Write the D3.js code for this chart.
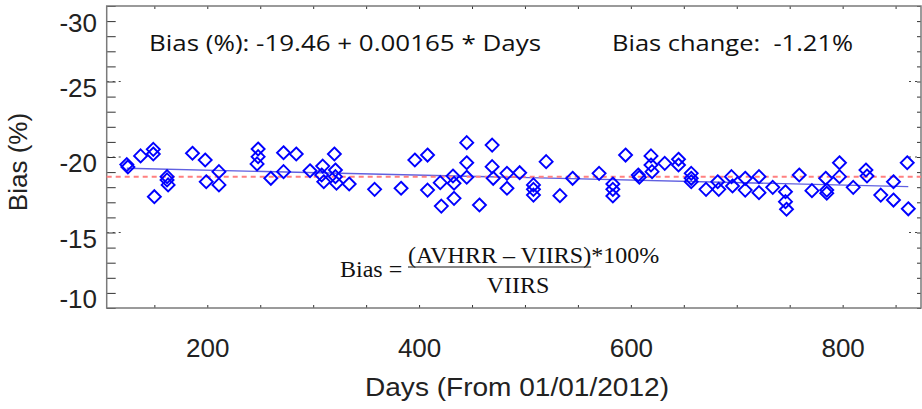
<!DOCTYPE html>
<html>
<head>
<meta charset="utf-8">
<script src="https://cdn.jsdelivr.net/npm/d3@7"></script>
<style>
    body { margin: 0; background: #fff; }
    svg { display: block; }
</style>
</head>
<body>
<svg id="biasChart" width="922" height="409"></svg>
<script>
// days since 01/01/2012 and AVHRR-VIIRS bias (%)
var days = [124, 125, 137, 149, 149, 150, 162, 162, 163, 186,
    198, 199, 211, 211, 248, 248, 247, 260, 272, 272,
    284, 297, 309, 308, 310, 320, 321, 321, 322, 334,
    358, 383, 396, 408, 408, 420, 421, 432, 433, 433,
    445, 445, 445, 457, 469, 469, 470, 483, 483, 495,
    508, 508, 508, 520, 533, 545, 570, 583, 583, 583,
    595, 607, 608, 619, 619, 620, 632, 645, 645, 657,
    657, 657, 671, 682, 683, 695, 696, 708, 708, 721,
    721, 734, 746, 746, 747, 759, 771, 784, 785, 785,
    797, 797, 810, 822, 823, 836, 848, 848, 861, 862];

var bias = [-19.50, -19.34, -20.07, -20.51, -20.20, -17.37, -18.70, -18.48, -18.15, -20.25,
    -19.80, -18.36, -19.03, -18.15, -20.53, -20.02, -19.54, -18.59, -20.28, -19.03,
    -20.20, -19.09, -19.40, -18.81, -18.36, -20.20, -19.14, -18.70, -18.26, -18.21,
    -17.86, -17.93, -19.80, -20.13, -17.81, -18.30, -16.75, -18.74, -18.26, -17.26,
    -20.95, -19.62, -18.66, -16.82, -20.79, -19.36, -18.59, -18.92, -17.93, -18.96,
    -18.15, -17.86, -17.48, -19.69, -17.44, -18.59, -18.92, -18.21, -17.86, -17.42,
    -20.13, -18.81, -18.66, -20.07, -19.47, -19.03, -19.58, -19.85, -19.47, -18.92,
    -18.59, -18.36, -17.86, -18.36, -17.86, -18.70, -18.08, -18.59, -17.81, -18.70,
    -17.64, -17.99, -17.70, -17.04, -16.54, -18.81, -17.77, -18.59, -17.81, -17.60,
    -19.62, -18.70, -17.99, -19.14, -18.74, -17.48, -18.36, -17.15, -19.62, -16.57];

var xTickLabels = [200, 400, 600, 800];
var yTickLabels = [-30, -25, -20, -15, -10];
var fitIntercept = -19.46;
var fitSlope = 0.00165;
var meanBias = -18.70;
var fitText = "Bias (%): -19.46 + 0.00165 * Days";
var changeText = "Bias change:  -1.21%";

/**
 * Draws the whole bias time series plot
 */
function drawBiasChart()
{
    var svg = d3.select("#biasChart");
    var left = 106.7, right = 921, top = 6, bottom = 308;

    var x = d3.scaleLinear().domain([105, 874]).range([left, right]);
    var y = d3.scaleLinear().domain([-30, -10]).range([top, bottom]);

    var xMinor = d3.range(150, 851, 50);
    var yMinor = d3.range(-30, -9, 1);

    // bottom axis with labels every 200 days
    var bx = svg.append("g")
            .attr("transform", "translate(0," + bottom + ")")
            .call(d3.axisBottom(x).tickValues(xMinor).tickSize(-3).tickPadding(31)
                    .tickFormat(function(d) { return xTickLabels.indexOf(d) >= 0 ? d : ""; }));
    styleAxis(bx);
    bx.selectAll("text")
            .style("font-family", "'Liberation Sans', Arial, sans-serif")
            .style("font-size", "26px")
            .attr("fill", "#222");

    var tx = svg.append("g")
            .attr("transform", "translate(0," + top + ")")
            .call(d3.axisTop(x).tickValues(xMinor).tickSize(-3).tickFormat(""));
    styleAxis(tx);

    var ly = svg.append("g")
            .attr("transform", "translate(" + left + ",0)")
            .call(d3.axisLeft(y).tickValues(yMinor).tickSize(-9).tickFormat(""));
    styleAxis(ly);

    var ry = svg.append("g")
            .attr("transform", "translate(" + right + ",0)")
            .call(d3.axisRight(y).tickValues(yMinor).tickSize(-4).tickFormat(""));
    styleAxis(ry);

    // short dotted grid stubs at the labelled ticks
    var inner = yTickLabels.slice(1, -1);
    svg.selectAll(".gridL").data(inner).enter().append("line")
            .attr("x1", left).attr("x2", left + 18)
            .attr("y1", function(d) { return y(d); })
            .attr("y2", function(d) { return y(d); })
            .style("stroke", "#444").style("stroke-width", 1)
            .style("stroke-dasharray", "2,4");
    svg.selectAll(".gridR").data(inner).enter().append("line")
            .attr("x1", right - 12).attr("x2", right)
            .attr("y1", function(d) { return y(d); })
            .attr("y2", function(d) { return y(d); })
            .style("stroke", "#444").style("stroke-width", 1)
            .style("stroke-dasharray", "2,4");

    // frame
    svg.append("rect")
            .attr("x", left).attr("y", top)
            .attr("width", right - left).attr("height", bottom - top)
            .style("fill", "none")
            .style("stroke", "#7a7a7a")
            .style("stroke-width", 1.5);

    // y tick labels, the end ones nudged inside like the original
    svg.selectAll(".ylab").data(yTickLabels).enter().append("text")
            .attr("x", 97)
            .attr("y", function(d) {
                if (d === yTickLabels[0]) return y(d) + 16.5;
                if (d === yTickLabels[yTickLabels.length - 1]) return y(d) - 9;
                return y(d) + 6;
            })
            .attr("dy", "0.35em")
            .attr("text-anchor", "end")
            .style("font-family", "'Liberation Sans', Arial, sans-serif")
            .style("font-size", "26px")
            .attr("fill", "#222")
            .text(function(d) { return d; });

    svg.append("text")
            .attr("transform", "translate(27,162) rotate(-90)")
            .attr("text-anchor", "middle")
            .style("font-family", "'Liberation Sans', Arial, sans-serif")
            .style("font-size", "26px")
            .attr("fill", "#222")
            .text("Bias (%)");

    svg.append("text")
            .attr("x", 365).attr("y", 396)
            .attr("textLength", 304)
            .attr("lengthAdjust", "spacingAndGlyphs")
            .style("font-family", "'Liberation Sans', Arial, sans-serif")
            .style("font-size", "26px")
            .attr("fill", "#222")
            .text("Days (From 01/01/2012)");

    // fit line and mean line
    var d0 = d3.min(days), d1 = d3.max(days);
    svg.append("line")
            .attr("x1", x(d0)).attr("y1", y(fitIntercept + fitSlope * d0))
            .attr("x2", x(d1)).attr("y2", y(fitIntercept + fitSlope * d1))
            .style("stroke", "#6060e0")
            .style("stroke-width", 1.3);

    svg.append("line")
            .attr("x1", left).attr("x2", right)
            .attr("y1", y(meanBias)).attr("y2", y(meanBias))
            .style("stroke", "#ff8080")
            .style("stroke-width", 2)
            .style("stroke-dasharray", "5,4");

    // diamond markers
    svg.selectAll(".pt").data(days).enter().append("path")
            .attr("transform", function(d, i) {
                return "translate(" + x(d) + "," + y(bias[i]) + ")";
            })
            .attr("d", "M0,-6.5L6.5,0L0,6.5L-6.5,0Z")
            .style("fill", "none")
            .style("stroke", "#0000ff")
            .style("stroke-width", 1.9);

    // annotation texts
    svg.append("text")
            .attr("x", 149).attr("y", 51)
            .attr("textLength", 392)
            .attr("lengthAdjust", "spacingAndGlyphs")
            .style("font-family", "'Open Sans', sans-serif")
            .style("font-size", "21px")
            .style("white-space", "pre")
            .attr("fill", "#111")
            .text(fitText);

    svg.append("text")
            .attr("x", 612).attr("y", 51)
            .attr("textLength", 241)
            .attr("lengthAdjust", "spacingAndGlyphs")
            .style("font-family", "'Open Sans', sans-serif")
            .style("font-size", "21px")
            .style("white-space", "pre")
            .attr("fill", "#111")
            .text(changeText);

    drawFormula(svg);

    /**
     * Makes tick lines thin and dark, drops the axis domain path
     * @param {type} g
     */
    function styleAxis(g) {
        g.select(".domain").remove();
        g.selectAll(".tick line").style("stroke", "#333").style("stroke-width", 1);
    }
}

/**
 * Draws the Bias = (AVHRR - VIIRS)*100% / VIIRS formula
 * @param {type} svg
 */
function drawFormula(svg)
{
    var f = svg.append("g")
            .style("font-family", "'Liberation Serif', 'Times New Roman', serif")
            .style("font-size", "24px")
            .attr("fill", "#111");

    f.append("text").attr("x", 340).attr("y", 277).text("Bias =");

    var numX = 408;
    var num = f.append("text").attr("x", numX).attr("y", 263).text("(AVHRR \u2013 VIIRS)");
    var w = num.node().getComputedTextLength();

    f.append("line")
            .attr("x1", numX).attr("x2", numX + w)
            .attr("y1", 267).attr("y2", 267)
            .style("stroke", "#111").style("stroke-width", 1);

    f.append("text").attr("x", numX + w).attr("y", 263).text("*100%");
    f.append("text").attr("x", 518).attr("y", 293).attr("text-anchor", "middle").text("VIIRS");
}

drawBiasChart();
</script>
</body>
</html>
